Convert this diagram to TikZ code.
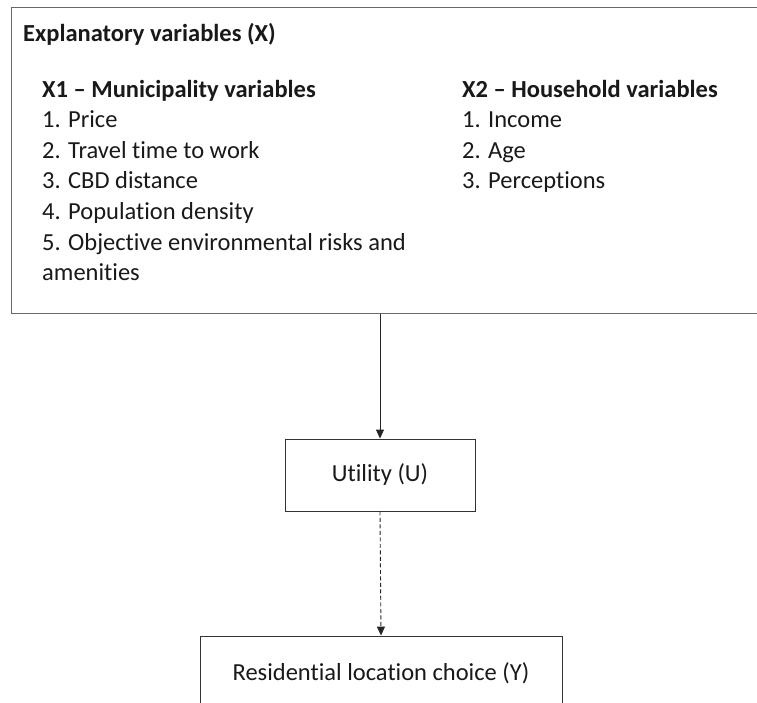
\documentclass[tikz,border=0pt]{standalone}
\usepackage{fontspec}
\setmainfont{Carlito}[Ligatures=NoCommon]
\usetikzlibrary{arrows.meta}
\definecolor{edgegray}{RGB}{105,105,105}
\definecolor{txt}{RGB}{25,25,25}
\begin{document}
\begin{tikzpicture}[x=1pt,y=-1pt,
  every node/.style={font=\fontsize{24.5}{30.6}\selectfont, text=txt},
  frame/.style={draw=edgegray, line width=1.4pt, inner sep=0pt},
  box/.style={draw=black!80, line width=0.9pt, inner sep=0pt},
  lbl/.style={anchor=base west, inner sep=0pt},
  hdr/.style={lbl, font=\fontsize{24.5}{30.6}\selectfont\bfseries},
  conn/.style={draw=black!85, line width=0.9pt, -{Triangle[length=9pt,width=8pt]}},
]
\useasboundingbox (0,0) rectangle (757,702);
\fill[white] (0,0) rectangle (757,702);
\clip (0,0) rectangle (757,702);
% top frame (right edge cropped)
\node[frame, anchor=north west, minimum width=780pt, minimum height=306pt] (expl) at (11,7) {};
\node[hdr] (title) at (23,41) {Explanatory variables (X)};
\node[hdr] (x1h) at (42,97) {X1 – Municipality variables};
\node[hdr] (x2h) at (462,97) {X2 – Household variables};
\foreach \t [count=\i] in {1. Price, 2. Travel time to work, 3. CBD distance, 4. Population density, 5. Objective environmental risks and, amenities}
  \node[lbl] (m\i) at (42,{97+30.6*\i}) {\t};
\foreach \t [count=\i] in {1. Income, 2. Age, 3. Perceptions}
  \node[lbl] (h\i) at (462,{97+30.6*\i}) {\t};
% utility and outcome
\node[box, minimum width=190pt, minimum height=72pt] (util) at (380,475) {Utility (U)};
\node[box, minimum width=362pt, minimum height=74pt] (res) at (381,673) {Residential location choice (Y)};
% connectors
\draw[conn] (util.north |- expl.south) -- (util.north);
\draw[conn, dash pattern=on 4pt off 2.5pt] (util.south) -- (res.north);
\end{tikzpicture}
\end{document}
